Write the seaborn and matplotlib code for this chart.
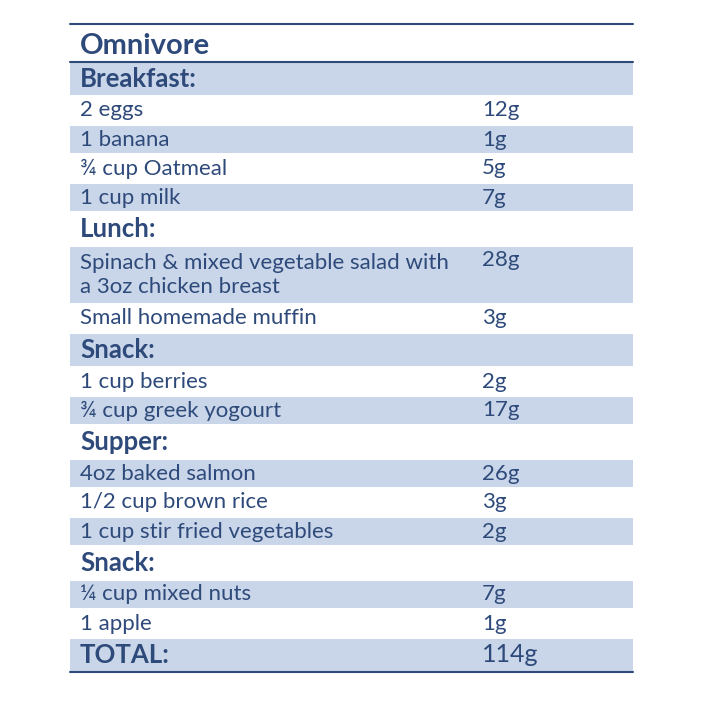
import matplotlib
matplotlib.use("Agg")
import matplotlib.pyplot as plt
import seaborn as sns

sns.set_theme(style="white")

title = "Omnivore"
items = ["Breakfast:", "2 eggs", "1 banana", "¾ cup Oatmeal", "1 cup milk",
         "Lunch:", "Spinach & mixed vegetable salad with\na 3oz chicken breast",
         "Small homemade muffin", "Snack:", "1 cup berries", "¾ cup greek yogourt",
         "Supper:", "4oz baked salmon", "1/2 cup brown rice", "1 cup stir fried vegetables",
         "Snack:", "¼ cup mixed nuts", "1 apple", "TOTAL:"]
protein = ["", "12g", "1g", "5g", "7g", "", "28g", "3g", "", "2g", "17g",
           "", "26g", "3g", "2g", "", "7g", "1g", "114g"]
headers = {"Breakfast:", "Lunch:", "Snack:", "Supper:", "TOTAL:"}

navy = "#2e4a7a"
fill = "#c9d5e8"

fig = plt.figure(figsize=(7.2, 7.2), dpi=100)
ax = fig.add_axes([0, 0, 1, 1])
ax.set_xlim(0, 720)
ax.set_ylim(720, 0)
ax.axis("off")

left, right, split = 70, 633, 478
top = 24
ax.plot([left, right], [top, top], color=navy, lw=1.5)
ax.text(left + 10, 46, title, color=navy, fontsize=21, fontweight="bold",
        family="Lato", va="center")
y = 62
ax.plot([left, right], [y, y], color=navy, lw=1.5)
for i, (name, val) in enumerate(zip(items, protein)):
    hdr = name in headers
    h = 34 if hdr else (58 if "\n" in name else 29)
    if i % 2 == 0:
        ax.add_patch(plt.Rectangle((left, y + 1), right - left, h - 2, color=fill, lw=0))
    if hdr:
        ax.text(left + 10, y + h / 2, name, color=navy, fontsize=18.5, fontweight="bold",
                family="Lato", va="center")
    else:
        ax.text(left + 10, y + h / 2, name, color=navy, fontsize=16, family="Lato",
                va="center", linespacing=1.2)
    if val:
        ax.text(split + 4, y + (14.5 if "\n" in name else h / 2), val, color=navy,
                fontsize=18 if hdr else 16, family="Lato", va="center")
    y += h
ax.plot([left, right], [y, y], color=navy, lw=1.5)

fig.savefig("out.png", dpi=100, facecolor="white")
